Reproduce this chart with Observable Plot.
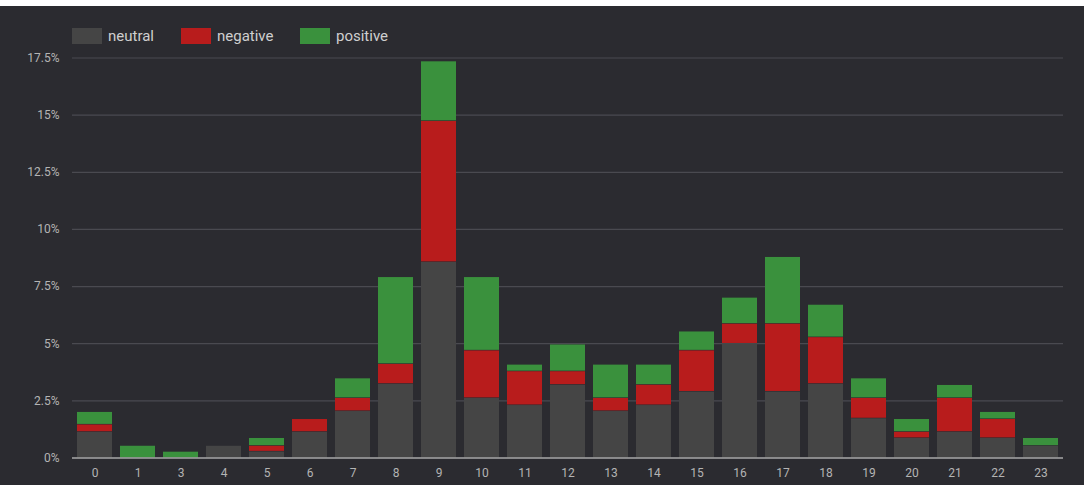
<!DOCTYPE html>
<html>
<head>
<meta charset="utf-8">
<script src="https://cdn.jsdelivr.net/npm/d3@7"></script>
<script src="https://cdn.jsdelivr.net/npm/@observablehq/plot@0.6"></script>
<style>
  html, body { margin: 0; padding: 0; background: #ffffff; }
  #wrap { position: absolute; left: 0; top: 6px; width: 1084px; height: 479px; background: #2b2b30; overflow: hidden; font-family: Roboto, "Noto Sans", sans-serif; }
  #legend { height: 44px; position: relative; }
  .item { position: absolute; top: 21px; display: flex; align-items: center; font-size: 15px; color: #cfcfcf; }
  .sw { width: 30px; height: 16px; margin-right: 6px; }
  svg { display: block; }
</style>
</head>
<body>
<div id="wrap">
  <div id="legend"></div>
  <div id="chart"></div>
</div>
<script>
const categories = ["0","1","3","4","5","6","7","8","9","10","11","12","13","14","15","16","17","18","19","20","21","22","23"];
const seriesNames = ["neutral", "negative", "positive"];
const seriesColors = ["#454545", "#b81c1c", "#3a913d"];
const neutral  = [1.15,0,0,0.54,0.29,1.15,2.06,3.25,8.58,2.63,2.32,3.21,2.06,2.32,2.91,5.01,2.91,3.25,1.74,0.88,1.15,0.88,0.54];
const negative = [0.32,0,0,0,0.25,0.56,0.57,0.87,6.17,2.08,1.48,0.59,0.57,0.89,1.80,0.87,2.97,2.04,0.89,0.27,1.48,0.83,0];
const positive = [0.55,0.54,0.28,0,0.34,0,0.86,3.80,2.61,3.21,0.29,1.17,1.46,0.88,0.83,1.14,2.92,1.42,0.86,0.56,0.57,0.31,0.34];
const yTicks = [0, 2.5, 5, 7.5, 10, 12.5, 15, 17.5];

const seriesValues = [neutral, negative, positive];
const data = [];
seriesNames.forEach((s, si) => {
  categories.forEach((c, i) => {
    data.push({hour: c, series: s, value: seriesValues[si][i]});
  });
});

// legend
const legend = document.getElementById("legend");
const legendX = [72, 181, 300];
seriesNames.forEach((s, i) => {
  const d = document.createElement("div");
  d.className = "item";
  d.style.left = legendX[i] + "px";
  d.innerHTML = `<span class="sw" style="background:${seriesColors[i]}"></span><span>${s}</span>`;
  legend.appendChild(d);
});

const chart = Plot.plot({
  width: 1084,
  height: 435,
  marginLeft: 72,
  marginRight: 21,
  marginTop: 7.5,
  marginBottom: 27.5,
  style: {background: "transparent", color: "#b4b4b4", fontSize: "12px", fontFamily: "Roboto, sans-serif"},
  x: {domain: categories, paddingInner: 0.19, paddingOuter: 0.095, label: null},
  y: {domain: [0, 17.5], label: null},
  color: {domain: seriesNames, range: seriesColors},
  marks: [
    Plot.gridY(yTicks.filter(d => d > 0), {stroke: "#4a4a50", strokeOpacity: 1, strokeWidth: 1.2}),
    Plot.barY(data.filter(d => d.value > 0), Plot.stackY({order: null}, {x: "hour", y: "value", fill: "series", insetTop: 0.6})),
    Plot.ruleY([0], {stroke: "#a8a8a8", strokeWidth: 1.6}),
    Plot.axisY({ticks: yTicks, tickFormat: d => d + "%", tickSize: 0, tickPadding: 13, label: null}),
    Plot.axisX({tickSize: 0, tickPadding: 10, label: null})
  ]
});
document.getElementById("chart").appendChild(chart);
</script>
</body>
</html>
